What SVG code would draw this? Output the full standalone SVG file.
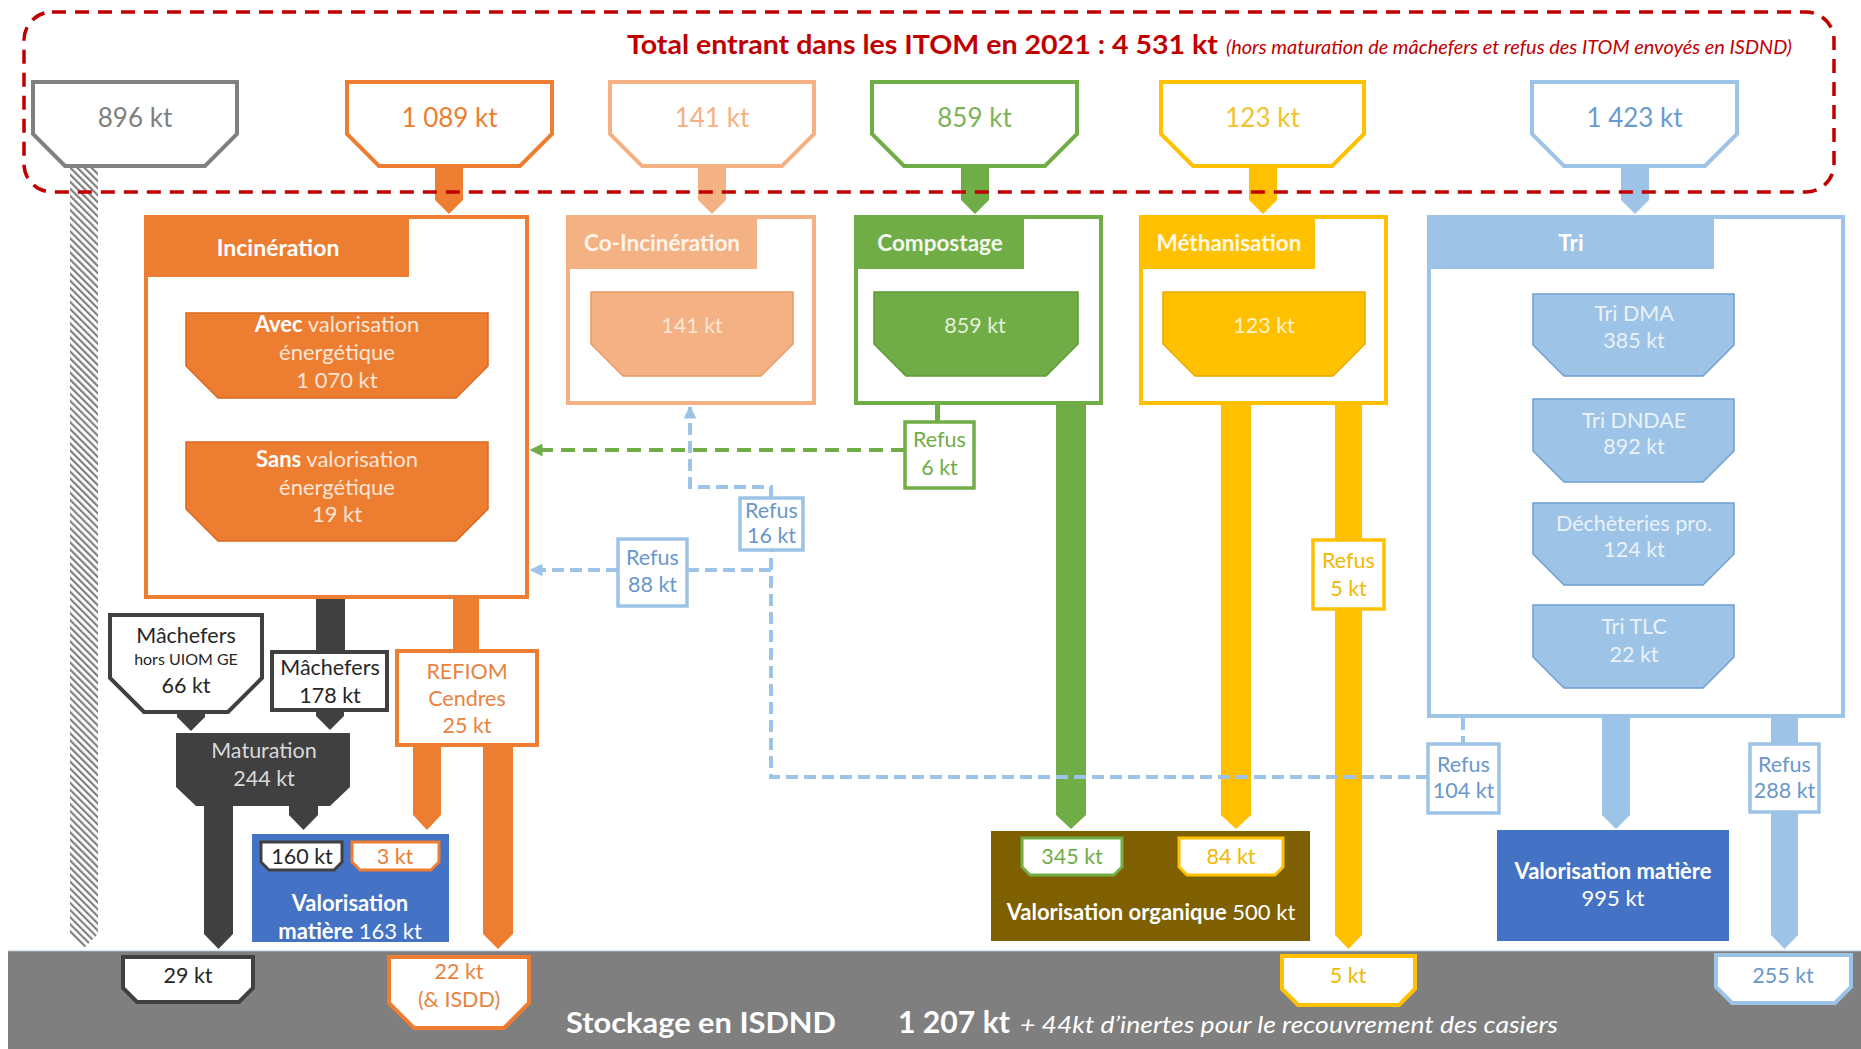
<svg xmlns="http://www.w3.org/2000/svg" width="1861" height="1049" viewBox="0 0 1861 1049" font-size="21.5">
<style>
text{font-family:Lato,"Liberation Sans",sans-serif}
.m{text-anchor:middle}
.b{font-weight:bold}
.ctr{stroke-width:4;fill:#fff}
.box{stroke-width:3.5;fill:#fff}
.in{stroke-width:4;fill:#fff}
.dB{fill:none;stroke:#9DC3E6;stroke-width:4;stroke-dasharray:12 6}
.dG{fill:none;stroke:#70AD47;stroke-width:4;stroke-dasharray:14 8}
</style>
<defs>
<pattern id="hatch" width="5" height="5" patternUnits="userSpaceOnUse" patternTransform="rotate(-45)">
<rect width="5" height="5" fill="#fff"/>
<line x1="1" y1="0" x2="1" y2="5" stroke="#808080" stroke-width="2.4"/>
</pattern>
<marker id="aG" viewBox="0 0 10 10" refX="9" refY="5" markerWidth="3.2" markerHeight="3.2" orient="auto" markerUnits="strokeWidth"><path d="M0,0 L10,5 L0,10 Z" fill="#70AD47"/></marker>
<marker id="aB" viewBox="0 0 10 10" refX="9" refY="5" markerWidth="3.2" markerHeight="3.2" orient="auto" markerUnits="strokeWidth"><path d="M0,0 L10,5 L0,10 Z" fill="#9DC3E6"/></marker>
</defs>
<rect width="1861" height="1049" fill="#fff"/>

<!-- bottom band -->
<g id="stockage">
<rect x="8" y="950" width="1853" height="99" fill="#7F7F7F"/>
<line x1="8" y1="950.5" x2="1861" y2="950.5" stroke="#DCE6F2" stroke-width="1.5"/>
<text x="566" y="1033" class="b" font-size="28" fill="#fff" textLength="270" lengthAdjust="spacingAndGlyphs">Stockage en ISDND</text>
<text x="898" y="1033" class="b" font-size="30" fill="#fff" textLength="112" lengthAdjust="spacingAndGlyphs">1 207 kt</text>
<text x="1020" y="1033" font-size="23" font-style="italic" fill="#fff" textLength="538" lengthAdjust="spacingAndGlyphs">+ 44kt d’inertes pour le recouvrement des casiers</text>
</g>

<!-- connectors -->
<g id="connectors">
<path d="M70 168 H98 V934 L84 948 L70 934 Z" fill="url(#hatch)"/>
<path d="M435 166 H463 V200 L449 214 L435 200 Z" fill="#ED7D31"/>
<path d="M698 166 H726 V200 L712 214 L698 200 Z" fill="#F4B183"/>
<path d="M961 166 H989 V200 L975 214 L961 200 Z" fill="#70AD47"/>
<path d="M1249 166 H1277 V200 L1263 214 L1249 200 Z" fill="#FFC000"/>
<path d="M1621 166 H1649 V200 L1635 214 L1621 200 Z" fill="#9DC3E6"/>
<rect x="316" y="599" width="29" height="53" fill="#404040"/>
<path d="M316 710 H344 V716 L330 730 L316 716 Z" fill="#404040"/>
<path d="M177 712 H205 V717 L191 731 L177 717 Z" fill="#404040"/>
<path d="M204 806 H233 V934 L218.5 949 L204 934 Z" fill="#404040"/>
<path d="M289 806 H318 V815 L303.5 830 L289 815 Z" fill="#404040"/>
<rect x="453" y="599" width="26" height="52" fill="#ED7D31"/>
<path d="M413 745 H441 V815 L427 830 L413 815 Z" fill="#ED7D31"/>
<path d="M483 745 H513 V934 L498 949 L483 934 Z" fill="#ED7D31"/>
<rect x="935" y="404" width="5" height="18" fill="#70AD47"/>
<path d="M1056 405 H1086 V815 L1071 829 L1056 815 Z" fill="#70AD47"/>
<path d="M1221 405 H1251 V815 L1236 829 L1221 815 Z" fill="#FFC000"/>
<rect x="1335" y="405" width="27" height="135" fill="#FFC000"/>
<path d="M1335 609 H1362 V935 L1348.5 949 L1335 935 Z" fill="#FFC000"/>
<path d="M1602 718 H1630 V815 L1616 829 L1602 815 Z" fill="#9DC3E6"/>
<rect x="1771" y="718" width="27" height="26" fill="#9DC3E6"/>
<path d="M1771 812 H1798 V935 L1784.5 949 L1771 935 Z" fill="#9DC3E6"/>
<path d="M1428 777 H771 V550" class="dB"/>
<path d="M1463 718 V744" class="dB"/>
<path d="M771 570 H687" class="dB"/>
<path d="M618 570 H531" class="dB" marker-end="url(#aB)"/>
<path d="M771 498 V487 H690 V407" class="dB" marker-end="url(#aB)"/>
<path d="M905 450 H531" class="dG" marker-end="url(#aG)"/>
</g>

<!-- inputs -->
<g id="in-896"><path d="M33 82 H237 V134 L205 166 H65 L33 134 Z" class="in" stroke="#808080"/><text x="135" y="127" class="m" font-size="26" fill="#7F7F7F">896 kt</text></g>
<g id="in-1089"><path d="M347 82 H552 V134 L520 166 H379 L347 134 Z" class="in" stroke="#ED7D31"/><text x="449.5" y="127" class="m" font-size="26" fill="#ED7D31">1 089 kt</text></g>
<g id="in-141"><path d="M610 82 H814 V134 L782 166 H642 L610 134 Z" class="in" stroke="#F4B183"/><text x="712" y="127" class="m" font-size="26" fill="#F4B183">141 kt</text></g>
<g id="in-859"><path d="M872 82 H1077 V134 L1045 166 H904 L872 134 Z" class="in" stroke="#70AD47"/><text x="974.5" y="127" class="m" font-size="26" fill="#7DB356">859 kt</text></g>
<g id="in-123"><path d="M1161 82 H1364 V134 L1332 166 H1193 L1161 134 Z" class="in" stroke="#FFC000"/><text x="1262.5" y="127" class="m" font-size="26" fill="#F2C12E">123 kt</text></g>
<g id="in-1423"><path d="M1532 82 H1737 V134 L1705 166 H1564 L1532 134 Z" class="in" stroke="#9DC3E6"/><text x="1634.5" y="127" class="m" font-size="26" fill="#6A9AD0">1 423 kt</text></g>

<!-- incineration -->
<g id="incineration">
<rect x="146" y="217" width="381" height="380" class="ctr" stroke="#ED7D31"/>
<rect x="146" y="217" width="263" height="60" fill="#ED7D31"/>
<text x="278" y="256" class="m b" font-size="23" fill="#fff">Incinération</text>
<path d="M186 313 H488 V366 L456 398 H218 L186 366 Z" fill="#ED7D31" stroke="#D8691F" stroke-width="1.5"/>
<text x="337" y="332" class="m" font-size="22" fill="#FBE5D6"><tspan class="b" fill="#fff">Avec</tspan> valorisation</text>
<text x="337" y="360" class="m" font-size="22" fill="#FBE5D6">énergétique</text>
<text x="337" y="388" class="m" font-size="22" fill="#FBE5D6">1 070 kt</text>
<path d="M186 442 H488 V509 L456 541 H218 L186 509 Z" fill="#ED7D31" stroke="#D8691F" stroke-width="1.5"/>
<text x="337" y="467" class="m" font-size="22" fill="#FBE5D6"><tspan class="b" fill="#fff">Sans</tspan> valorisation</text>
<text x="337" y="495" class="m" font-size="22" fill="#FBE5D6">énergétique</text>
<text x="337" y="522" class="m" font-size="22" fill="#FBE5D6">19 kt</text>
</g>

<g id="co-incineration">
<rect x="568" y="217" width="246" height="186" class="ctr" stroke="#F4B183"/>
<rect x="568" y="217" width="189" height="52" fill="#F4B183"/>
<text x="662" y="251" class="m b" font-size="22.5" fill="#FFF3EA">Co-Incinération</text>
<path d="M591 292 H793 V344 L761 376 H623 L591 344 Z" fill="#F4B183" stroke="#E89A62" stroke-width="1.5"/>
<text x="692" y="333" class="m" fill="#FBE5D6">141 kt</text>
</g>

<g id="compostage">
<rect x="856" y="217" width="245" height="186" class="ctr" stroke="#70AD47"/>
<rect x="856" y="217" width="168" height="52" fill="#70AD47"/>
<text x="940" y="251" class="m b" font-size="22.5" fill="#F2F8EE">Compostage</text>
<path d="M874 292 H1078 V344 L1046 376 H906 L874 344 Z" fill="#70AD47" stroke="#5E9A37" stroke-width="1.5"/>
<text x="975" y="333" class="m" fill="#E2F0D9">859 kt</text>
</g>

<g id="methanisation">
<rect x="1141" y="217" width="245" height="186" class="ctr" stroke="#FFC000"/>
<rect x="1141" y="217" width="174" height="52" fill="#FFC000"/>
<text x="1229" y="251" class="m b" font-size="22.5" fill="#FFF8E5">Méthanisation</text>
<path d="M1163 292 H1365 V344 L1333 376 H1195 L1163 344 Z" fill="#FFC000" stroke="#E6AC00" stroke-width="1.5"/>
<text x="1264" y="333" class="m" fill="#FFF2CC">123 kt</text>
</g>

<g id="tri">
<rect x="1429" y="217" width="414" height="499" class="ctr" stroke="#9DC3E6"/>
<rect x="1429" y="217" width="285" height="52" fill="#9DC3E6"/>
<text x="1571" y="251" class="m b" font-size="22.5" fill="#fff">Tri</text>
<path d="M1533 294 H1734 V345 L1703 376 H1564 L1533 345 Z" fill="#9DC3E6" stroke="#6F9FD0" stroke-width="1.5"/>
<text x="1634" y="321" class="m" fill="#EAF2FA">Tri DMA</text>
<text x="1634" y="348" class="m" fill="#EAF2FA">385 kt</text>
<path d="M1533 399 H1734 V451 L1703 482 H1564 L1533 451 Z" fill="#9DC3E6" stroke="#6F9FD0" stroke-width="1.5"/>
<text x="1634" y="428" class="m" fill="#EAF2FA">Tri DNDAE</text>
<text x="1634" y="454" class="m" fill="#EAF2FA">892 kt</text>
<path d="M1533 503 H1734 V554 L1703 585 H1564 L1533 554 Z" fill="#9DC3E6" stroke="#6F9FD0" stroke-width="1.5"/>
<text x="1634" y="531" class="m" fill="#EAF2FA">Déchèteries pro.</text>
<text x="1634" y="557" class="m" fill="#EAF2FA">124 kt</text>
<path d="M1533 605 H1734 V657 L1703 688 H1564 L1533 657 Z" fill="#9DC3E6" stroke="#6F9FD0" stroke-width="1.5"/>
<text x="1634" y="634" class="m" fill="#EAF2FA">Tri TLC</text>
<text x="1634" y="662" class="m" fill="#EAF2FA">22 kt</text>
</g>

<!-- incineration outputs -->
<g id="machefers-hors-uiom">
<path d="M110 615 H262 V678 L228 712 H144 L110 678 Z" class="in" stroke="#404040"/>
<text x="186" y="643" class="m" fill="#262626">Mâchefers</text>
<text x="186" y="665" class="m" font-size="16" fill="#262626">hors UIOM GE</text>
<text x="186" y="693" class="m" fill="#262626">66 kt</text>
</g>
<g id="machefers">
<rect x="272" y="652" width="115" height="58" class="in" stroke="#404040"/>
<text x="330" y="675" class="m" fill="#262626">Mâchefers</text>
<text x="330" y="703" class="m" fill="#262626">178 kt</text>
</g>
<g id="maturation">
<path d="M176 733 H350 V787 L330 806 H196 L176 787 Z" fill="#404040"/>
<text x="264" y="758" class="m" fill="#D9D9D9">Maturation</text>
<text x="264" y="786" class="m" fill="#D9D9D9">244 kt</text>
</g>
<g id="refiom">
<rect x="397" y="651" width="140" height="94" class="in" stroke="#ED7D31"/>
<text x="467" y="679" class="m" fill="#E8833F">REFIOM</text>
<text x="467" y="706" class="m" fill="#E8833F">Cendres</text>
<text x="467" y="733" class="m" fill="#E8833F">25 kt</text>
</g>
<g id="valorisation-matiere-163">
<rect x="252" y="834" width="197" height="108" fill="#4472C4"/>
<path d="M261 842 H342 V862 L334 870 H269 L261 862 Z" fill="#fff" stroke="#404040" stroke-width="3"/>
<text x="302" y="864" class="m" fill="#262626">160 kt</text>
<path d="M352 842 H439 V862 L431 870 H360 L352 862 Z" fill="#fff" stroke="#ED7D31" stroke-width="3"/>
<text x="395" y="864" class="m" fill="#ED7D31">3 kt</text>
<text x="350" y="911" class="m b" font-size="22" fill="#fff">Valorisation</text>
<text x="350" y="939" class="m" font-size="22" fill="#fff"><tspan class="b">matière</tspan> 163 kt</text>
</g>
<g id="stock-29"><path d="M123 957 H253 V988 L239 1002 H137 L123 988 Z" class="in" stroke="#404040"/><text x="188" y="983" class="m" fill="#262626">29 kt</text></g>
<g id="stock-22"><path d="M389 957 H529 V1003 L504 1028 H414 L389 1003 Z" class="in" stroke="#ED7D31"/><text x="459" y="979" class="m" fill="#E8833F">22 kt</text><text x="459" y="1007" class="m" fill="#E8833F">(&amp; ISDD)</text></g>

<!-- refus labels -->
<g id="refus-6"><rect x="905" y="422" width="69" height="66" class="box" stroke="#70AD47"/><text x="939.5" y="447" class="m" fill="#70AD47">Refus</text><text x="939.5" y="475" class="m" fill="#70AD47">6 kt</text></g>
<g id="refus-16"><rect x="740" y="498" width="63" height="52" class="box" stroke="#9DC3E6"/><text x="771.5" y="518" class="m" fill="#6A97CB">Refus</text><text x="771.5" y="543" class="m" fill="#6A97CB">16 kt</text></g>
<g id="refus-88"><rect x="618" y="539" width="69" height="67" class="box" stroke="#9DC3E6"/><text x="652.5" y="565" class="m" fill="#6A97CB">Refus</text><text x="652.5" y="592" class="m" fill="#6A97CB">88 kt</text></g>
<g id="refus-5"><rect x="1313" y="540" width="71" height="69" class="box" stroke="#FFC000"/><text x="1348.5" y="568" class="m" fill="#F2B800">Refus</text><text x="1348.5" y="596" class="m" fill="#F2B800">5 kt</text></g>
<g id="refus-104"><rect x="1428" y="744" width="71" height="69" class="box" stroke="#9DC3E6"/><text x="1463.5" y="772" class="m" fill="#6A97CB">Refus</text><text x="1463.5" y="798" class="m" fill="#6A97CB">104 kt</text></g>
<g id="refus-288"><rect x="1750" y="744" width="69" height="68" class="box" stroke="#9DC3E6"/><text x="1784.5" y="772" class="m" fill="#6A97CB">Refus</text><text x="1784.5" y="798" class="m" fill="#6A97CB">288 kt</text></g>

<g id="valorisation-organique">
<rect x="991" y="831" width="319" height="110" fill="#7F6000"/>
<path d="M1022 838 H1122 V867 L1114 875 H1030 L1022 867 Z" fill="#fff" stroke="#70AD47" stroke-width="3"/>
<text x="1072" y="864" class="m" fill="#70AD47">345 kt</text>
<path d="M1179 838 H1283 V867 L1275 875 H1187 L1179 867 Z" fill="#fff" stroke="#FFC000" stroke-width="3"/>
<text x="1231" y="864" class="m" fill="#F2B800">84 kt</text>
<text x="1151" y="920" class="m" font-size="22" fill="#fff"><tspan class="b">Valorisation organique</tspan> 500 kt</text>
</g>
<g id="valorisation-matiere-995">
<rect x="1497" y="830" width="232" height="111" fill="#4472C4"/>
<text x="1613" y="879" class="m b" font-size="22" fill="#fff">Valorisation matière</text>
<text x="1613" y="906" class="m" font-size="22" fill="#fff">995 kt</text>
</g>
<g id="stock-5"><path d="M1282 956 H1415 V989 L1399 1005 H1298 L1282 989 Z" class="in" stroke="#FFC000"/><text x="1348" y="983" class="m" fill="#F2B800">5 kt</text></g>
<g id="stock-255"><path d="M1716 955 H1851 V987 L1835 1003 H1732 L1716 987 Z" class="in" stroke="#9DC3E6"/><text x="1783" y="983" class="m" fill="#6A97CB">255 kt</text></g>

<!-- title frame -->
<g id="total">
<rect x="24" y="12" width="1810" height="180" rx="28" fill="none" stroke="#C00000" stroke-width="3.5" stroke-dasharray="14 9"/>
<text x="627" y="54" class="b" font-size="27" fill="#C00000" textLength="591" lengthAdjust="spacingAndGlyphs">Total entrant dans les ITOM en 2021 : 4 531 kt</text>
<text x="1226" y="54" font-size="19" font-style="italic" fill="#C00000" textLength="566" lengthAdjust="spacingAndGlyphs">(hors maturation de mâchefers et refus des ITOM envoyés en ISDND)</text>
</g>
</svg>
